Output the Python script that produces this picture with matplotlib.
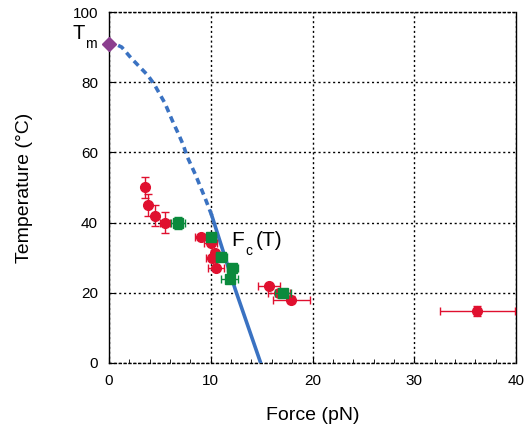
import numpy as np
import matplotlib
matplotlib.use('Agg')
import matplotlib.pyplot as plt
from matplotlib.ticker import MultipleLocator

plt.rcParams['font.family'] = ['Liberation Sans', 'DejaVu Sans']

# red points (force pN, temperature C)
red_F = [3.5, 3.8, 4.5, 5.5, 9.0, 10.0, 10.4, 10.1, 10.5, 15.7, 16.7, 17.9, 36.2]
red_T = [50, 45, 42, 40, 35.9, 34.1, 31.4, 29.9, 27, 22, 19.8, 18, 14.8]
red_Ferr = [0, 0, 0, 0.5, 0.55, 0.65, 0, 0.6, 0.75, 1.1, 1.05, 1.8, 3.65]
red_Terr = [3, 3, 3, 3, 0, 0, 0, 0, 0, 0, 0, 1, 1.5]

# green points
green_F = [6.8, 10.05, 11.05, 12.1, 11.85, 17.1]
green_T = [40, 35.9, 30.1, 27, 23.9, 19.8]
green_Ferr = [0.7, 0.45, 0.5, 0.55, 0.8, 0.8]
green_Terr = [1.7, 0, 0, 0, 0, 0]

# melting point
Tm_F = 0
Tm_T = 91

# F_c(T) boundary
curve_dash_F = [0.9, 1.25, 2.2, 3.0, 3.8, 4.45, 4.95, 5.5, 6.2, 6.8, 7.3, 7.65, 8.5, 9.45, 10.1]
curve_dash_T = [90.5, 90.0, 86.8, 84.4, 82.0, 79.4, 76.8, 74.0, 69.2, 65.4, 62.1, 59.0, 53.6, 46.9, 42.0]
curve_solid_F = [10.1, 12.4, 14.9]
curve_solid_T = [42.0, 21.0, 0.0]

blue = '#3a72c2'
red = '#e0102f'
green = '#0a8a3c'
purple = '#8b3f8f'

fig = plt.figure(figsize=(5.24, 4.30), dpi=100)
ax = fig.add_axes([0.208, 0.156, 0.777, 0.816])

ax.plot(curve_dash_F, curve_dash_T, color=blue, lw=2.6, dashes=(1.8, 1.3), dash_capstyle='butt', zorder=3)
ax.plot(curve_solid_F, curve_solid_T, color=blue, lw=2.6, zorder=3)

ax.errorbar(red_F, red_T, xerr=red_Ferr, yerr=red_Terr, fmt='o', color=red, ms=7,
            elinewidth=1.0, capsize=3, capthick=1.0, zorder=4)
ax.errorbar(green_F, green_T, xerr=green_Ferr, yerr=green_Terr, fmt='s', color=green, ms=7,
            elinewidth=1.0, capsize=3, capthick=1.0, zorder=5)
ax.plot([Tm_F], [Tm_T], marker='D', color=purple, ms=7, clip_on=False, zorder=6)

ax.set_xlim(0, 40)
ax.set_ylim(0, 100)
ax.xaxis.set_major_locator(MultipleLocator(10))
ax.xaxis.set_minor_locator(MultipleLocator(2))
ax.yaxis.set_major_locator(MultipleLocator(20))
ax.tick_params(axis='both', which='major', direction='in', length=4, labelsize=11, pad=8)
ax.tick_params(axis='x', which='minor', direction='in', length=3)

ax.grid(True, which='major', color='black', ls=(0, (1.5, 2)), lw=1)
for side in ['top', 'bottom']:
    ax.spines[side].set_linestyle((0, (1.5, 2)))
    ax.spines[side].set_linewidth(1)
for side in ['left', 'right']:
    ax.spines[side].set_linewidth(1)

ax.set_xlabel('Force (pN)', fontsize=14, labelpad=14)
ax.set_ylabel('Temperature (\u00b0C)', fontsize=14, labelpad=28)

# T_m label
ax.text(-3.6, 92.3, 'T', fontsize=14.5, ha='left', va='baseline', clip_on=False)
ax.text(-2.4, 89.7, 'm', fontsize=10, ha='left', va='baseline', clip_on=False)
# F_c(T) label
ax.text(12.05, 33.2, 'F', fontsize=15, ha='left', va='baseline')
ax.text(13.4, 30.8, 'c', fontsize=10, ha='left', va='baseline')
ax.text(14.45, 33.2, '(T)', fontsize=15, ha='left', va='baseline')

fig.savefig('out.png', dpi=100)
